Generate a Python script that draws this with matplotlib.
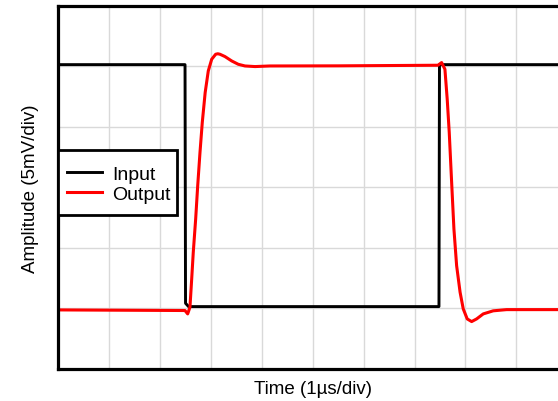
import matplotlib
matplotlib.use("Agg")
import matplotlib.pyplot as plt
from matplotlib.patches import Rectangle

plt.rcParams['font.family'] = ['Liberation Sans', 'DejaVu Sans']

# time and amplitude in scope divisions (1 us/div, 5 mV/div)
input_t = [0.0, 2.49, 2.50, 2.56, 7.48, 7.49, 10.2]
input_v = [5.03, 5.03, 1.08, 1.025, 1.025, 5.03, 5.03]

output_t = [0.0, 2.489, 2.542, 2.587, 2.621, 2.652, 2.699, 2.739, 2.784, 2.829,
            2.886, 2.947, 3.014, 3.092, 3.134, 3.176, 3.274, 3.407, 3.536, 3.668,
            3.865, 4.159, 5.5, 7.46, 7.532, 7.597, 7.642, 7.682, 7.729, 7.774,
            7.827, 7.895, 7.957, 8.035, 8.122, 8.22, 8.35, 8.546, 8.809, 9.07,
            10.2]
output_v = [0.97, 0.96, 0.904, 1.015, 1.483, 1.924, 2.474, 3.025, 3.577, 4.073,
            4.569, 4.926, 5.119, 5.202, 5.21, 5.202, 5.164, 5.091, 5.036, 5.008,
            4.998, 5.008, 5.01, 5.02, 5.064, 4.954, 4.458, 3.907, 3.081, 2.309,
            1.702, 1.263, 0.987, 0.821, 0.777, 0.821, 0.904, 0.955, 0.975, 0.975,
            0.975]

fig = plt.figure(figsize=(5.58, 4.02), dpi=100)
ax = fig.add_axes([0.1045, 0.0808, 0.912, 0.9017])

ax.plot(input_t, input_v, color='black', linewidth=2.1, label='Input')
ax.plot(output_t, output_v, color='#ff0000', linewidth=2.2, label='Output',
        solid_joinstyle='round')

ax.set_xlim(0, 10)
ax.set_ylim(0, 6)
ax.set_xticks(range(0, 11))
ax.set_yticks(range(0, 7))
ax.tick_params(length=0, labelbottom=False, labelleft=False)
ax.grid(True, color='#d9d9d9', linewidth=1.0)
ax.set_axisbelow(True)

for side in ['left', 'top', 'bottom']:
    ax.spines[side].set_linewidth(2.3)
ax.spines['right'].set_visible(False)

ax.set_xlabel('Time (1µs/div)', fontsize=13.5, labelpad=8)
ax.set_ylabel('Amplitude (5mV/div)', fontsize=13.5, labelpad=14)

# legend box drawn by hand: the original has more padding top/bottom than sides
box = Rectangle((0.0, 0.4238), 0.233, 0.179, transform=ax.transAxes,
                facecolor='white', edgecolor='black', linewidth=2.0, zorder=4.5,
                clip_on=False)
ax.add_patch(box)
leg = ax.legend(loc='upper left', bbox_to_anchor=(0.0, 0.585), borderaxespad=0,
                fontsize=14, frameon=False, handlelength=1.8,
                handletextpad=0.5, borderpad=0.45, labelspacing=0.12)

fig.savefig('out.png', dpi=100)
